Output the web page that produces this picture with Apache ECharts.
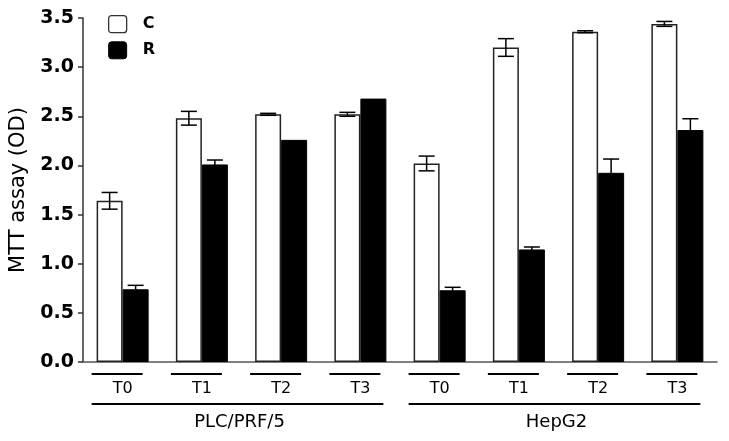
<!DOCTYPE html>
<html>
<head>
<meta charset="utf-8">
<script src="https://cdn.jsdelivr.net/npm/echarts@6/dist/echarts.min.js"></script>
<style>
  html, body { margin: 0; padding: 0; background: #fff; }
  #chart { width: 729px; height: 441px; }
</style>
</head>
<body>
<div id="chart"></div>
<script>
// Datos (MTT assay, OD)
var categories = ['T0', 'T1', 'T2', 'T3', 'T0', 'T1', 'T2', 'T3'];
var groupNames = ['PLC/PRF/5', 'HepG2'];
var groupSpans = [[0, 3], [4, 7]];
var cValues = [1.64, 2.48, 2.52, 2.52, 2.02, 3.20, 3.36, 3.44];
var cErr    = [0.085, 0.07, 0.01, 0.02, 0.075, 0.09, 0.01, 0.025];
var rValues = [0.74, 2.01, 2.26, 2.68, 0.73, 1.145, 1.925, 2.36];
var rErr    = [0.04, 0.045, 0, 0, 0.03, 0.025, 0.14, 0.115];

var FONT = 'DejaVu Sans';
var BAR_W = 26;
// cuadrito de leyenda con esquinas apenas redondeadas
var BOX_ICON = 'path://M3,0 H15 Q18,0 18,3 V14 Q18,17 15,17 H3 Q0,17 0,14 V3 Q0,0 3,0 Z';

function errSeries(name, vals, errs, offset) {
    return {
        name: name + '-err',
        type: 'custom',
        z: 5,
        silent: true,
        data: vals.map(function (v, i) { return [i, v, errs[i]]; }),
        renderItem: function (params, api) {
            var i = api.value(0), v = api.value(1), e = api.value(2);
            if (!e) return null;
            var top = api.coord([i, v + e]);
            var bot = api.coord([i, v - e]);
            var x = top[0] + offset;
            var cap = 8;
            var st = { stroke: '#000', lineWidth: 1.5 };
            return {
                type: 'group',
                children: [
                    { type: 'line', shape: { x1: x, y1: top[1], x2: x, y2: bot[1] }, style: st },
                    { type: 'line', shape: { x1: x - cap, y1: top[1], x2: x + cap, y2: top[1] }, style: st },
                    { type: 'line', shape: { x1: x - cap, y1: bot[1], x2: x + cap, y2: bot[1] }, style: st }
                ]
            };
        }
    };
}

var chart = echarts.init(document.getElementById('chart'));

chart.setOption({
    animation: false,
    backgroundColor: '#fff',
    grid: { left: 83, right: 12, top: 18, bottom: 79, containLabel: false },
    legend: {
        orient: 'vertical',
        left: 108,
        top: 15,
        padding: 0,
        itemWidth: 18,
        itemHeight: 17,
        itemGap: 8,
        data: [
            { name: 'C', icon: BOX_ICON, itemStyle: { color: '#fff', borderColor: '#333', borderWidth: 1.3 } },
            { name: 'R', icon: BOX_ICON, itemStyle: { color: '#000', borderColor: '#000', borderWidth: 1 } }
        ],
        textStyle: { fontFamily: FONT, fontWeight: 'bold', fontSize: 16, color: '#000', padding: [0, 0, 0, 11] }
    },
    xAxis: {
        type: 'category',
        data: categories,
        axisLine: { lineStyle: { color: '#555', width: 1.5 } },
        axisTick: { show: false },
        axisLabel: { fontFamily: FONT, fontSize: 16, color: '#000', margin: 19, interval: 0 }
    },
    yAxis: {
        type: 'value',
        min: 0,
        max: 3.5,
        interval: 0.5,
        name: 'MTT assay (OD)',
        nameLocation: 'middle',
        nameGap: 53,
        nameTextStyle: { fontFamily: FONT, fontSize: 21, color: '#000' },
        splitLine: { show: false },
        axisLine: { show: true, lineStyle: { color: '#333', width: 1.5 } },
        axisTick: { show: true, length: 5, lineStyle: { color: '#333', width: 1.5 } },
        axisLabel: {
            fontFamily: FONT, fontSize: 19, fontWeight: 'bold', color: '#000', margin: 9,
            formatter: function (v) { return v.toFixed(1); }
        }
    },
    series: [
        {
            name: 'C',
            type: 'bar',
            barWidth: BAR_W,
            barGap: '0%',
            data: cValues,
            itemStyle: { color: '#fff', borderColor: '#222', borderWidth: 1.5 }
        },
        {
            name: 'R',
            type: 'bar',
            barWidth: BAR_W,
            data: rValues,
            itemStyle: { color: '#000', borderColor: '#000', borderWidth: 1 }
        },
        errSeries('C', cValues, cErr, -BAR_W / 2),
        errSeries('R', rValues, rErr, BAR_W / 2)
    ]
});

// Lineas bajo las etiquetas y nombres de grupo, ubicados con la escala del eje
function buildGraphic() {
    var els = [];
    var axisY = chart.convertToPixel({ gridIndex: 0 }, [0, 0])[1];
    categories.forEach(function (c, i) {
        var cx = chart.convertToPixel({ xAxisIndex: 0 }, i);
        els.push({
            type: 'line',
            shape: { x1: cx - 31, y1: axisY + 12, x2: cx + 20, y2: axisY + 12 },
            style: { stroke: '#000', lineWidth: 2 }
        });
    });
    groupSpans.forEach(function (span, g) {
        var x0 = chart.convertToPixel({ xAxisIndex: 0 }, span[0]) - 31;
        var x1 = chart.convertToPixel({ xAxisIndex: 0 }, span[1]) + 23;
        els.push({
            type: 'line',
            shape: { x1: x0, y1: axisY + 42, x2: x1, y2: axisY + 42 },
            style: { stroke: '#000', lineWidth: 2 }
        });
        els.push({
            type: 'text',
            x: (x0 + x1) / 2 + 2,
            y: axisY + 60,
            style: {
                text: groupNames[g],
                fontFamily: FONT, fontSize: 18, fill: '#000',
                align: 'center', verticalAlign: 'middle'
            }
        });
    });
    chart.setOption({ graphic: els });
}
buildGraphic();
</script>
</body>
</html>
